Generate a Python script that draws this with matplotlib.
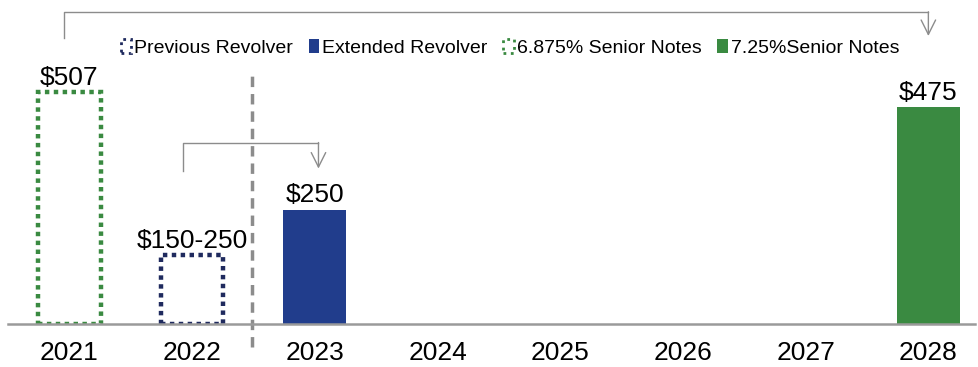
import matplotlib.pyplot as plt
from matplotlib.patches import Patch

plt.rcParams['font.family'] = ['Liberation Sans', 'DejaVu Sans']

years = ['2021', '2022', '2023', '2024', '2025', '2026', '2027', '2028']
previous_revolver = [0, 150, 0, 0, 0, 0, 0, 0]
extended_revolver = [0, 0, 250, 0, 0, 0, 0, 0]
notes_6875 = [507, 0, 0, 0, 0, 0, 0, 0]
notes_725 = [0, 0, 0, 0, 0, 0, 0, 475]
bar_labels = ['$507', '$150-250', '$250', '', '', '', '', '$475']

green = '#3a8a41'
navy_solid = '#213d8c'
navy_dot = '#1f2a5e'
gray = '#8c8c8c'

fig = plt.figure(figsize=(9.79, 3.67), dpi=100)
ax = fig.add_axes([8 / 979, 43 / 367, 967 / 979, 320 / 367])

x = list(range(len(years)))
w = 0.51


def nonzero(vals):
    xs = [i for i, v in zip(x, vals) if v > 0]
    hs = [v for v in vals if v > 0]
    return xs, hs


# dotted outline bars (old maturities)
ax.bar(*nonzero(notes_6875), width=w, facecolor='none', edgecolor=green,
       linewidth=3.2, linestyle=(0, (1, 1)))
ax.bar(*nonzero(previous_revolver), width=w, facecolor='none',
       edgecolor=navy_dot, linewidth=3.2, linestyle=(0, (1, 1)))
# solid bars (new maturities)
ax.bar(*nonzero(extended_revolver), width=w, color=navy_solid)
ax.bar(*nonzero(notes_725), width=w, color=green)

tops = [max(a, b, c, d) for a, b, c, d in
        zip(previous_revolver, extended_revolver, notes_6875, notes_725)]
for xi, t, lab in zip(x, tops, bar_labels):
    if lab:
        ax.text(xi, t + 5, lab, ha='center', va='bottom', fontsize=19)

ax.set_xlim(-0.5, 7.38)
ax.set_ylim(0, 700)
ax.set_xticks(x)
ax.set_xticklabels(years, fontsize=19)
ax.tick_params(axis='x', length=0, pad=12)
ax.set_yticks([])
for s in ['top', 'left', 'right']:
    ax.spines[s].set_visible(False)
ax.spines['bottom'].set_color('#9a9a9a')
ax.spines['bottom'].set_linewidth(1.8)

# dashed separator
ax.plot([1.49, 1.49], [-50, 551], color=gray, lw=2.5, ls=(0, (3, 2)),
        clip_on=False)


# brackets with arrows
def bracket(x0, x1, y_top, y_left, y_tip):
    ax.plot([x0, x0, x1], [y_left, y_top, y_top], color=gray, lw=1,
            clip_on=False)
    ax.annotate('', xy=(x1, y_tip), xytext=(x1, y_top + 1),
                arrowprops=dict(arrowstyle='->', color=gray, lw=1,
                                mutation_scale=26, shrinkA=0, shrinkB=0),
                annotation_clip=False)


bracket(-0.04, 7.0, 682, 625, 630)
bracket(0.93, 2.03, 396, 334, 340)

handles = [
    Patch(facecolor='white', edgecolor=navy_dot, linestyle=':', linewidth=2),
    Patch(facecolor=navy_solid),
    Patch(facecolor='white', edgecolor=green, linestyle=':', linewidth=2),
    Patch(facecolor=green),
]
names = ['Previous Revolver', 'Extended Revolver', '6.875% Senior Notes',
         '7.25%Senior Notes']
fig.legend(handles, names, loc='center', bbox_to_anchor=(510 / 979, 1 - 48 / 367),
           ncol=4, frameon=False, fontsize=14, handlelength=0.55,
           handleheight=0.7, handletextpad=0.15, columnspacing=0.8)

fig.savefig('out.png', dpi=100)
